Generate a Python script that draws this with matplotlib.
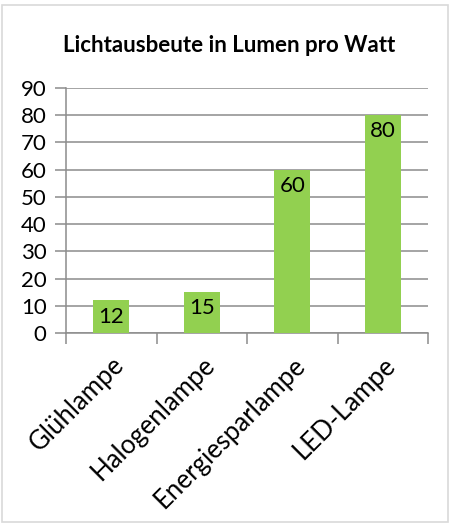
#!/usr/bin/env python3
import matplotlib
matplotlib.use("Agg")
import matplotlib.pyplot as plt
from matplotlib.patches import Rectangle

# =========================================================
# Data
# =========================================================
lampen = ["Glühlampe", "Halogenlampe", "Energiesparlampe", "LED-Lampe"]
lumen_pro_watt = [12, 15, 60, 80]
y_ticks = [0, 10, 20, 30, 40, 50, 60, 70, 80, 90]

plt.rcParams["font.family"] = ["Lato", "DejaVu Sans"]

grey = "#8c8c8c"
green = "#92d050"

# =========================================================
# Figure
# =========================================================
fig = plt.figure(figsize=(4.51, 5.24), dpi=100)
ax = fig.add_axes([66 / 451, 1 - 333 / 524, (428 - 66) / 451, (333 - 88) / 524])

# outer chart border
fig.patches.append(Rectangle((2 / 451, 2 / 524), 446 / 451, 517 / 524,
                             transform=fig.transFigure, fill=False,
                             edgecolor="#d9d9d9", linewidth=1.2))

x = list(range(len(lampen)))
bars = ax.bar(x, lumen_pro_watt, width=0.4, color=green, zorder=3)

for b, v in zip(bars, lumen_pro_watt):
    ax.text(b.get_x() + b.get_width() / 2, v - 2.3, str(v),
            ha="center", va="top", fontsize=16, color="black", zorder=4)

ax.set_xlim(-0.5, len(lampen) - 0.5)
ax.set_ylim(0, 90)
ax.set_yticks(y_ticks)
ax.set_yticklabels([str(t) for t in y_ticks], fontsize=16)
ax.yaxis.grid(True, color=grey, linewidth=1.1, zorder=0)
ax.set_axisbelow(True)

# category ticks sit between the bars
ax.set_xticks([i - 0.5 for i in range(len(lampen) + 1)], minor=False)
ax.set_xticklabels([])
ax.set_xticks(x, minor=True)
ax.set_xticklabels(lampen, minor=True, rotation=45, ha="right",
                   rotation_mode="anchor", fontsize=18.5)
ax.tick_params(axis="x", which="minor", length=0, pad=14)
ax.tick_params(axis="x", which="major", length=8, color=grey, width=1.1)
ax.tick_params(axis="y", length=8, color=grey, width=1.1, pad=6)

for s in ["top", "right"]:
    ax.spines[s].set_visible(False)
for s in ["left", "bottom"]:
    ax.spines[s].set_color(grey)
    ax.spines[s].set_linewidth(1.1)

fig.text(229 / 451, 1 - 45 / 524, "Lichtausbeute in Lumen pro Watt",
         ha="center", va="center", fontsize=16, fontweight="bold")

plt.savefig("out.png", dpi=100)
plt.close()
